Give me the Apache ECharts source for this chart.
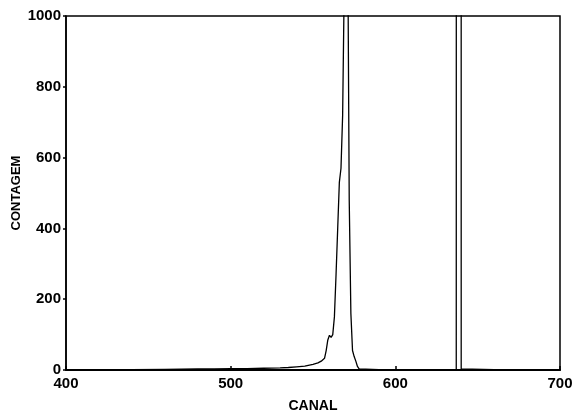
<!DOCTYPE html>
<html>
<head>
<meta charset="utf-8">
<script src="https://cdn.jsdelivr.net/npm/echarts@6/dist/echarts.min.js"></script>
<style>
html,body{margin:0;padding:0;background:#fff;}
#chart{width:573px;height:418px;}
</style>
</head>
<body>
<div id="chart"></div>
<script>
// Spectrum: channel (CANAL) vs count (CONTAGEM)
const channels = [400, 420, 440, 460, 480, 490, 500, 510, 520, 530, 535, 540, 545, 550, 553, 555, 557, 558, 559, 560, 561, 562, 563, 564, 565, 566, 567, 568, 569, 570, 571, 572, 573, 574, 575, 576, 577, 578, 590, 610, 630, 637, 638, 639, 640, 641, 660, 680, 700];
const counts   = [1, 1, 1, 2, 3, 3, 4, 4, 5, 6, 7, 9, 11, 16, 20, 25, 33, 55, 85, 98, 92, 100, 150, 270, 400, 530, 570, 720, 1100, 2000, 1300, 480, 160, 55, 38, 25, 10, 3, 1, 1, 1, 2, 3, 90000, 3, 1, 1, 1, 1];
const xTicks = [400, 500, 600, 700];
const yTicks = [0, 200, 400, 600, 800, 1000];

const data = channels.map((c, i) => [c, counts[i]]);
const chart = echarts.init(document.getElementById('chart'), null, {renderer: 'canvas'});
const tickFont = {color: '#000', fontFamily: 'Liberation Sans', fontWeight: 'bold', fontSize: 15};
chart.setOption({
  animation: false,
  backgroundColor: '#fff',
  grid: {left: 66, right: 13, top: 16, bottom: 48, show: true, borderColor: '#000', borderWidth: 1.5, backgroundColor: 'transparent', containLabel: false, outerBoundsMode: 'none'},
  xAxis: {
    type: 'value', min: xTicks[0], max: xTicks[xTicks.length - 1], interval: 100,
    name: 'CANAL', nameLocation: 'middle', nameGap: 29, nameMoveOverlap: false,
    nameTextStyle: {color: '#000', fontFamily: 'Liberation Sans', fontWeight: 'bold', fontSize: 14},
    axisLine: {lineStyle: {color: '#000', width: 2}},
    axisTick: {inside: true, length: 4, lineStyle: {color: '#000', width: 1.5}},
    axisLabel: Object.assign({margin: 6, formatter: v => String(v)}, tickFont),
    splitLine: {show: false}
  },
  yAxis: {
    type: 'value', min: yTicks[0], max: yTicks[yTicks.length - 1], interval: 200,
    name: 'CONTAGEM', nameLocation: 'middle', nameGap: 43, nameMoveOverlap: false,
    nameTextStyle: {color: '#000', fontFamily: 'Liberation Sans', fontWeight: 'bold', fontSize: 13},
    axisLine: {show: true, lineStyle: {color: '#000', width: 1.5}},
    axisTick: {show: true, length: 3, lineStyle: {color: '#000', width: 1.5}},
    axisLabel: Object.assign({margin: 5, formatter: v => String(v)}, tickFont),
    splitLine: {show: false}
  },
  series: [{
    type: 'line', data: data, showSymbol: false, symbol: 'none', clip: true,
    lineStyle: {color: '#000', width: 1.3}
  }]
});
</script>
</body>
</html>
